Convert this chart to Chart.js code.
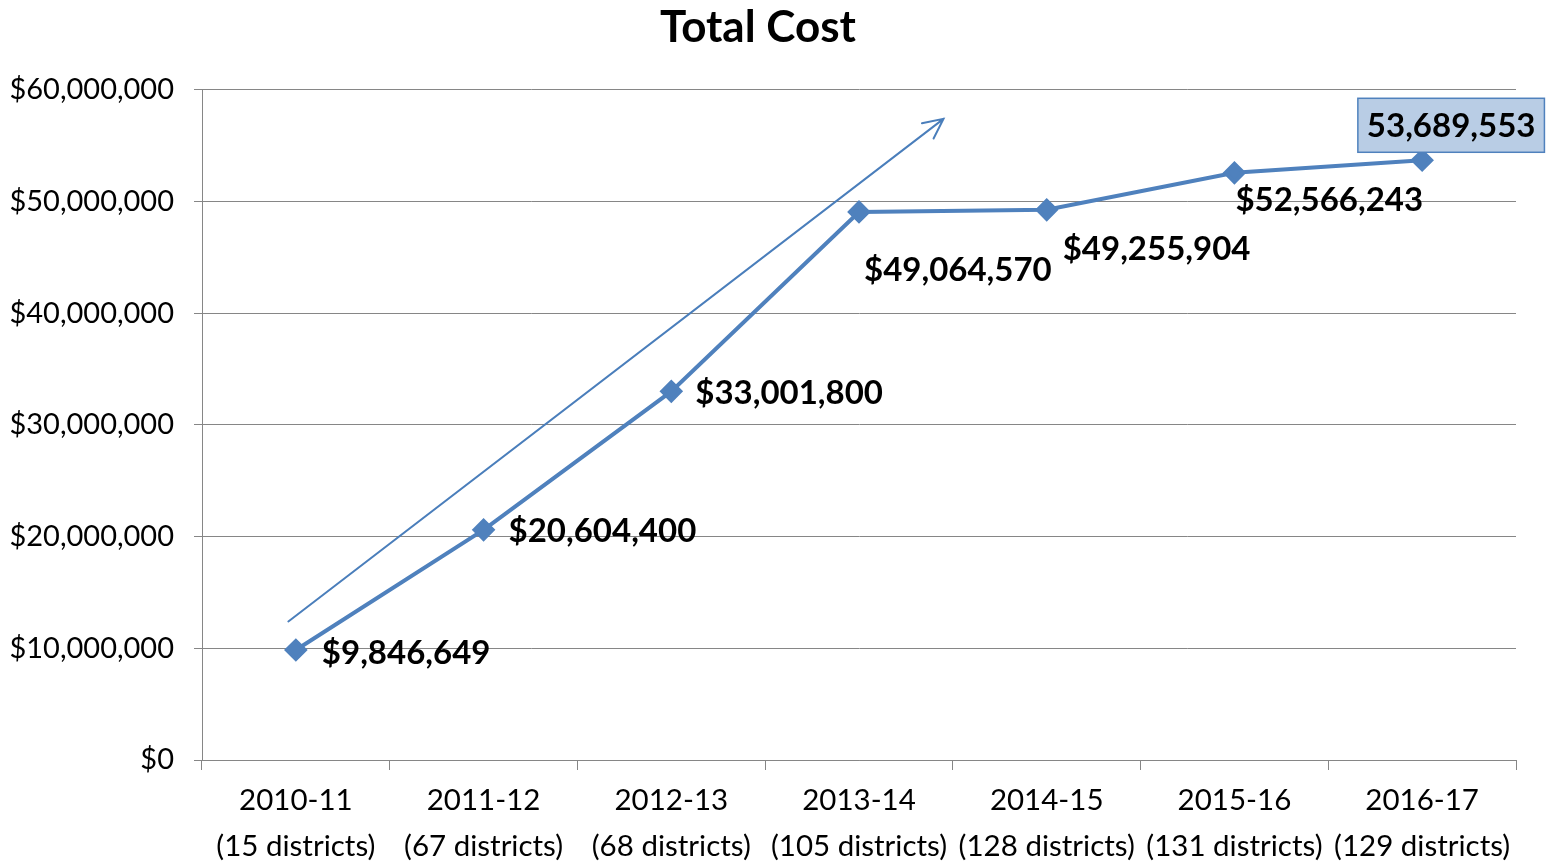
<!DOCTYPE html>
<html>
<head>
<meta charset="utf-8">
<title>Total Cost</title>
<script src="https://cdn.jsdelivr.net/npm/chart.js@4"></script>
<style>
    html, body { margin: 0; padding: 0; background: #fff; }
    #wrap { width: 1547px; height: 865px; }
</style>
</head>
<body>
<div id="wrap"><canvas id="graficoCosto"></canvas></div>
<script>
// datos
const years = ['2010-11', '2011-12', '2012-13', '2013-14', '2014-15', '2015-16', '2016-17'];
const districts = ['(15 districts)', '(67 districts)', '(68 districts)', '(105 districts)', '(128 districts)', '(131 districts)', '(129 districts)'];
const totalCost = [9846649, 20604400, 33001800, 49064570, 49255904, 52566243, 53689553];
const pointLabels = ['$9,846,649', '$20,604,400', '$33,001,800', '$49,064,570', '$49,255,904', '$52,566,243', '53,689,553'];
const yTicks = [0, 10000000, 20000000, 30000000, 40000000, 50000000, 60000000];
// flecha de tendencia en coordenadas de datos (indice de categoria, valor)
const trendFrom = [-0.04, 12400000];
const trendTo = [3.45, 57400000];

const blue = '#4f81bd';
const fontFamily = 'Lato, "Open Sans", sans-serif';

// desplazamiento de cada etiqueta respecto a su punto (px)
const labelOffsets = [[26, 3], [25, 2], [24, 2], [5, 58], [16, 40], [1, 28], [29, -35]];

const labelsPlugin = {
    id: 'etiquetas',
    afterDatasetsDraw(chart) {
        const ctx = chart.ctx;
        const meta = chart.getDatasetMeta(0);
        ctx.save();
        ctx.font = 'bold 33px ' + fontFamily;
        ctx.textBaseline = 'middle';
        meta.data.forEach((pt, i) => {
            const [dx, dy] = labelOffsets[i];
            const txt = pointLabels[i];
            if (i === meta.data.length - 1) {
                const w = ctx.measureText(txt).width;
                const cx = pt.x + dx, cy = pt.y + dy;
                const bw = w + 18, bh = 54;
                ctx.fillStyle = '#b9cde5';
                ctx.strokeStyle = blue;
                ctx.lineWidth = 1.5;
                ctx.fillRect(cx - bw / 2, cy - bh / 2, bw, bh);
                ctx.strokeRect(cx - bw / 2, cy - bh / 2, bw, bh);
                ctx.fillStyle = '#000';
                ctx.textAlign = 'center';
                ctx.fillText(txt, cx, cy + 1);
            } else {
                ctx.fillStyle = '#000';
                ctx.textAlign = 'left';
                ctx.fillText(txt, pt.x + dx, pt.y + dy);
            }
        });
        ctx.restore();
    }
};

const arrowPlugin = {
    id: 'flecha',
    afterDatasetsDraw(chart) {
        const xs = chart.scales.x, ys = chart.scales.y;
        const x1 = xs.getPixelForValue(trendFrom[0]), y1 = ys.getPixelForValue(trendFrom[1]);
        const x2 = xs.getPixelForValue(trendTo[0]), y2 = ys.getPixelForValue(trendTo[1]);
        const ang = Math.atan2(y2 - y1, x2 - x1);
        const ctx = chart.ctx;
        ctx.save();
        ctx.strokeStyle = '#4a7ebb';
        ctx.lineWidth = 2;
        ctx.lineCap = 'round';
        ctx.beginPath();
        ctx.moveTo(x1, y1);
        ctx.lineTo(x2, y2);
        const len = 22, spread = 0.45;
        ctx.moveTo(x2 - len * Math.cos(ang - spread), y2 - len * Math.sin(ang - spread));
        ctx.lineTo(x2, y2);
        ctx.lineTo(x2 - len * Math.cos(ang + spread), y2 - len * Math.sin(ang + spread));
        ctx.stroke();
        ctx.restore();
    }
};

const ctx = document.getElementById('graficoCosto').getContext('2d');
const chart = new Chart(ctx, {
    type: 'line',
    data: {
        labels: years.map((y, i) => [y, districts[i]]),
        datasets: [{
            label: 'Total Cost',
            data: totalCost,
            borderColor: blue,
            backgroundColor: blue,
            borderWidth: 4,
            pointStyle: 'rectRot',
            pointRadius: 9,
            pointHoverRadius: 9,
            tension: 0,
            fill: false
        }]
    },
    options: {
        responsive: true,
        maintainAspectRatio: false,
        animation: false,
        layout: { padding: { left: 0, right: 31, top: 0, bottom: 0 } },
        plugins: {
            legend: { display: false },
            tooltip: { enabled: false },
            title: {
                display: true,
                text: 'Total Cost',
                color: '#000',
                font: { family: fontFamily, size: 44, weight: 'bold', lineHeight: 1.2 },
                padding: { top: 1, bottom: 36 }
            }
        },
        scales: {
            x: {
                offset: true,
                grid: { offset: true, drawOnChartArea: false, color: '#868686', tickLength: 10 },
                border: { color: '#868686' },
                ticks: {
                    color: '#000',
                    font: { family: fontFamily, size: 29.5, lineHeight: 1.55 },
                    padding: 8,
                    maxRotation: 0,
                    autoSkip: false
                },
                afterFit(scale) { scale.height = 105; }
            },
            y: {
                min: 0,
                max: 60000000,
                afterBuildTicks(scale) { scale.ticks = yTicks.map(v => ({ value: v })); },
                grid: { color: '#868686', tickLength: 8 },
                border: { color: '#868686' },
                ticks: {
                    color: '#000',
                    font: { family: fontFamily, size: 29 },
                    padding: 20,
                    callback: v => '$' + v.toLocaleString('en-US')
                },
                afterFit(scale) { scale.width = 202; }
            }
        }
    },
    plugins: [arrowPlugin, labelsPlugin]
});
</script>
</body>
</html>
